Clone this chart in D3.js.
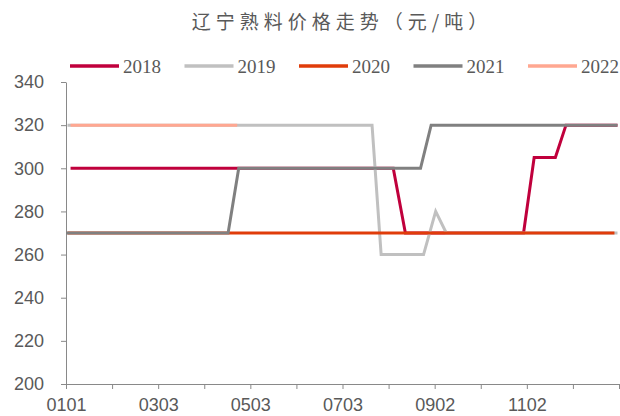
<!DOCTYPE html>
<html>
<head>
<meta charset="utf-8">
<script src="https://cdn.jsdelivr.net/npm/d3@7"></script>
<style>
  body { margin: 0; background: #fff; }
  .title { font-family: "Noto Sans CJK SC", sans-serif; font-size: 19px; fill: #595959; letter-spacing: 5px; }
  .legend text { font-family: "Liberation Serif", serif; font-size: 19px; fill: #595959; }
  .axis text { font-family: "Liberation Sans", Arial, sans-serif; font-size: 18px; fill: #595959; }
  .axis path, .axis line { stroke: #898989; }
  .series { fill: none; stroke-width: 3px; stroke-linejoin: miter; }
</style>
</head>
<body>
<div id="chart"></div>
<script>
// price points per year: [MMDD, yuan/ton]
var s2018 = [['0104', 300], ['0805', 300], ['0813', 270], ['1030', 270], ['1106', 305], ['1120', 305], ['1127', 320], ['1231', 320]];
var s2019 = [['0102', 320], ['0722', 320], ['0728', 260], ['0825', 260], ['0902', 280], ['0909', 270], ['1231', 270]];
var s2020 = [['0102', 270], ['1229', 270]];
var s2021 = [['0101', 270], ['0418', 270], ['0425', 300], ['0823', 300], ['0830', 320], ['1231', 320]];
var s2022 = [['0104', 320], ['0424', 320]];

var years = ['2018', '2019', '2020', '2021', '2022'];
var colors = ['#C0003C', '#C0C0C0', '#E03C0A', '#808080', '#FFA791'];
var yTicks = [200, 220, 240, 260, 280, 300, 320, 340];
var xLabels = ['0101', '0303', '0503', '0703', '0902', '1102'];

var W = 620, H = 416;
var margin = { top: 82, right: 1, bottom: 32, left: 66 };

var parse = d3.timeParse('%Y%m%d');
var jan1 = parse('20210101');
function dayOf(mmdd) { return d3.timeDay.count(jan1, parse('2021' + mmdd)); }

var x = d3.scaleLinear().domain([0, 365]).range([margin.left, W - margin.right]);
var y = d3.scaleLinear().domain([200, 340]).range([H - margin.bottom, margin.top]);

var svg = d3.select('#chart').append('svg')
    .attr('width', W)
    .attr('height', H);

svg.append('text')
    .attr('class', 'title')
    .attr('x', 342)
    .attr('y', 29)
    .attr('text-anchor', 'middle')
    .text('辽宁熟料价格走势（元/吨）');

// axes
var xTickVals = d3.range(0, 12).map(function (i) { return i * 365 / 12; });
xTickVals.push(365);
var xAxis = d3.axisBottom(x)
    .tickValues(xTickVals)
    .tickSize(5)
    .tickSizeOuter(0)
    .tickFormat(function (d, i) { return i % 2 === 0 && i / 2 < xLabels.length ? xLabels[i / 2] : ''; });

svg.append('g')
    .attr('class', 'axis x')
    .attr('transform', 'translate(0,' + y(200) + ')')
    .call(xAxis)
    .selectAll('text')
      .attr('dy', '1.05em');

var yAxis = d3.axisLeft(y)
    .tickValues(yTicks)
    .tickSize(5)
    .tickSizeOuter(0)
    .tickPadding(17);

svg.append('g')
    .attr('class', 'axis y')
    .attr('transform', 'translate(' + margin.left + ',0)')
    .call(yAxis);

// lines
var line = d3.line()
    .x(function (d) { return x(dayOf(d[0])); })
    .y(function (d) { return y(d[1]); });

[s2018, s2019, s2020, s2021, s2022].forEach(function (s, i) {
  svg.append('path')
      .attr('class', 'series')
      .attr('stroke', colors[i])
      .attr('d', line(s));
});

// legend
var legend = svg.append('g').attr('class', 'legend');
years.forEach(function (yr, i) {
  var lx = 70 + i * 114.5;
  legend.append('line')
      .attr('x1', lx).attr('x2', lx + 49)
      .attr('y1', 66).attr('y2', 66)
      .attr('stroke', colors[i])
      .attr('stroke-width', 3.5);
  legend.append('text')
      .attr('x', lx + 53)
      .attr('y', 73)
      .text(yr);
});
</script>
</body>
</html>
